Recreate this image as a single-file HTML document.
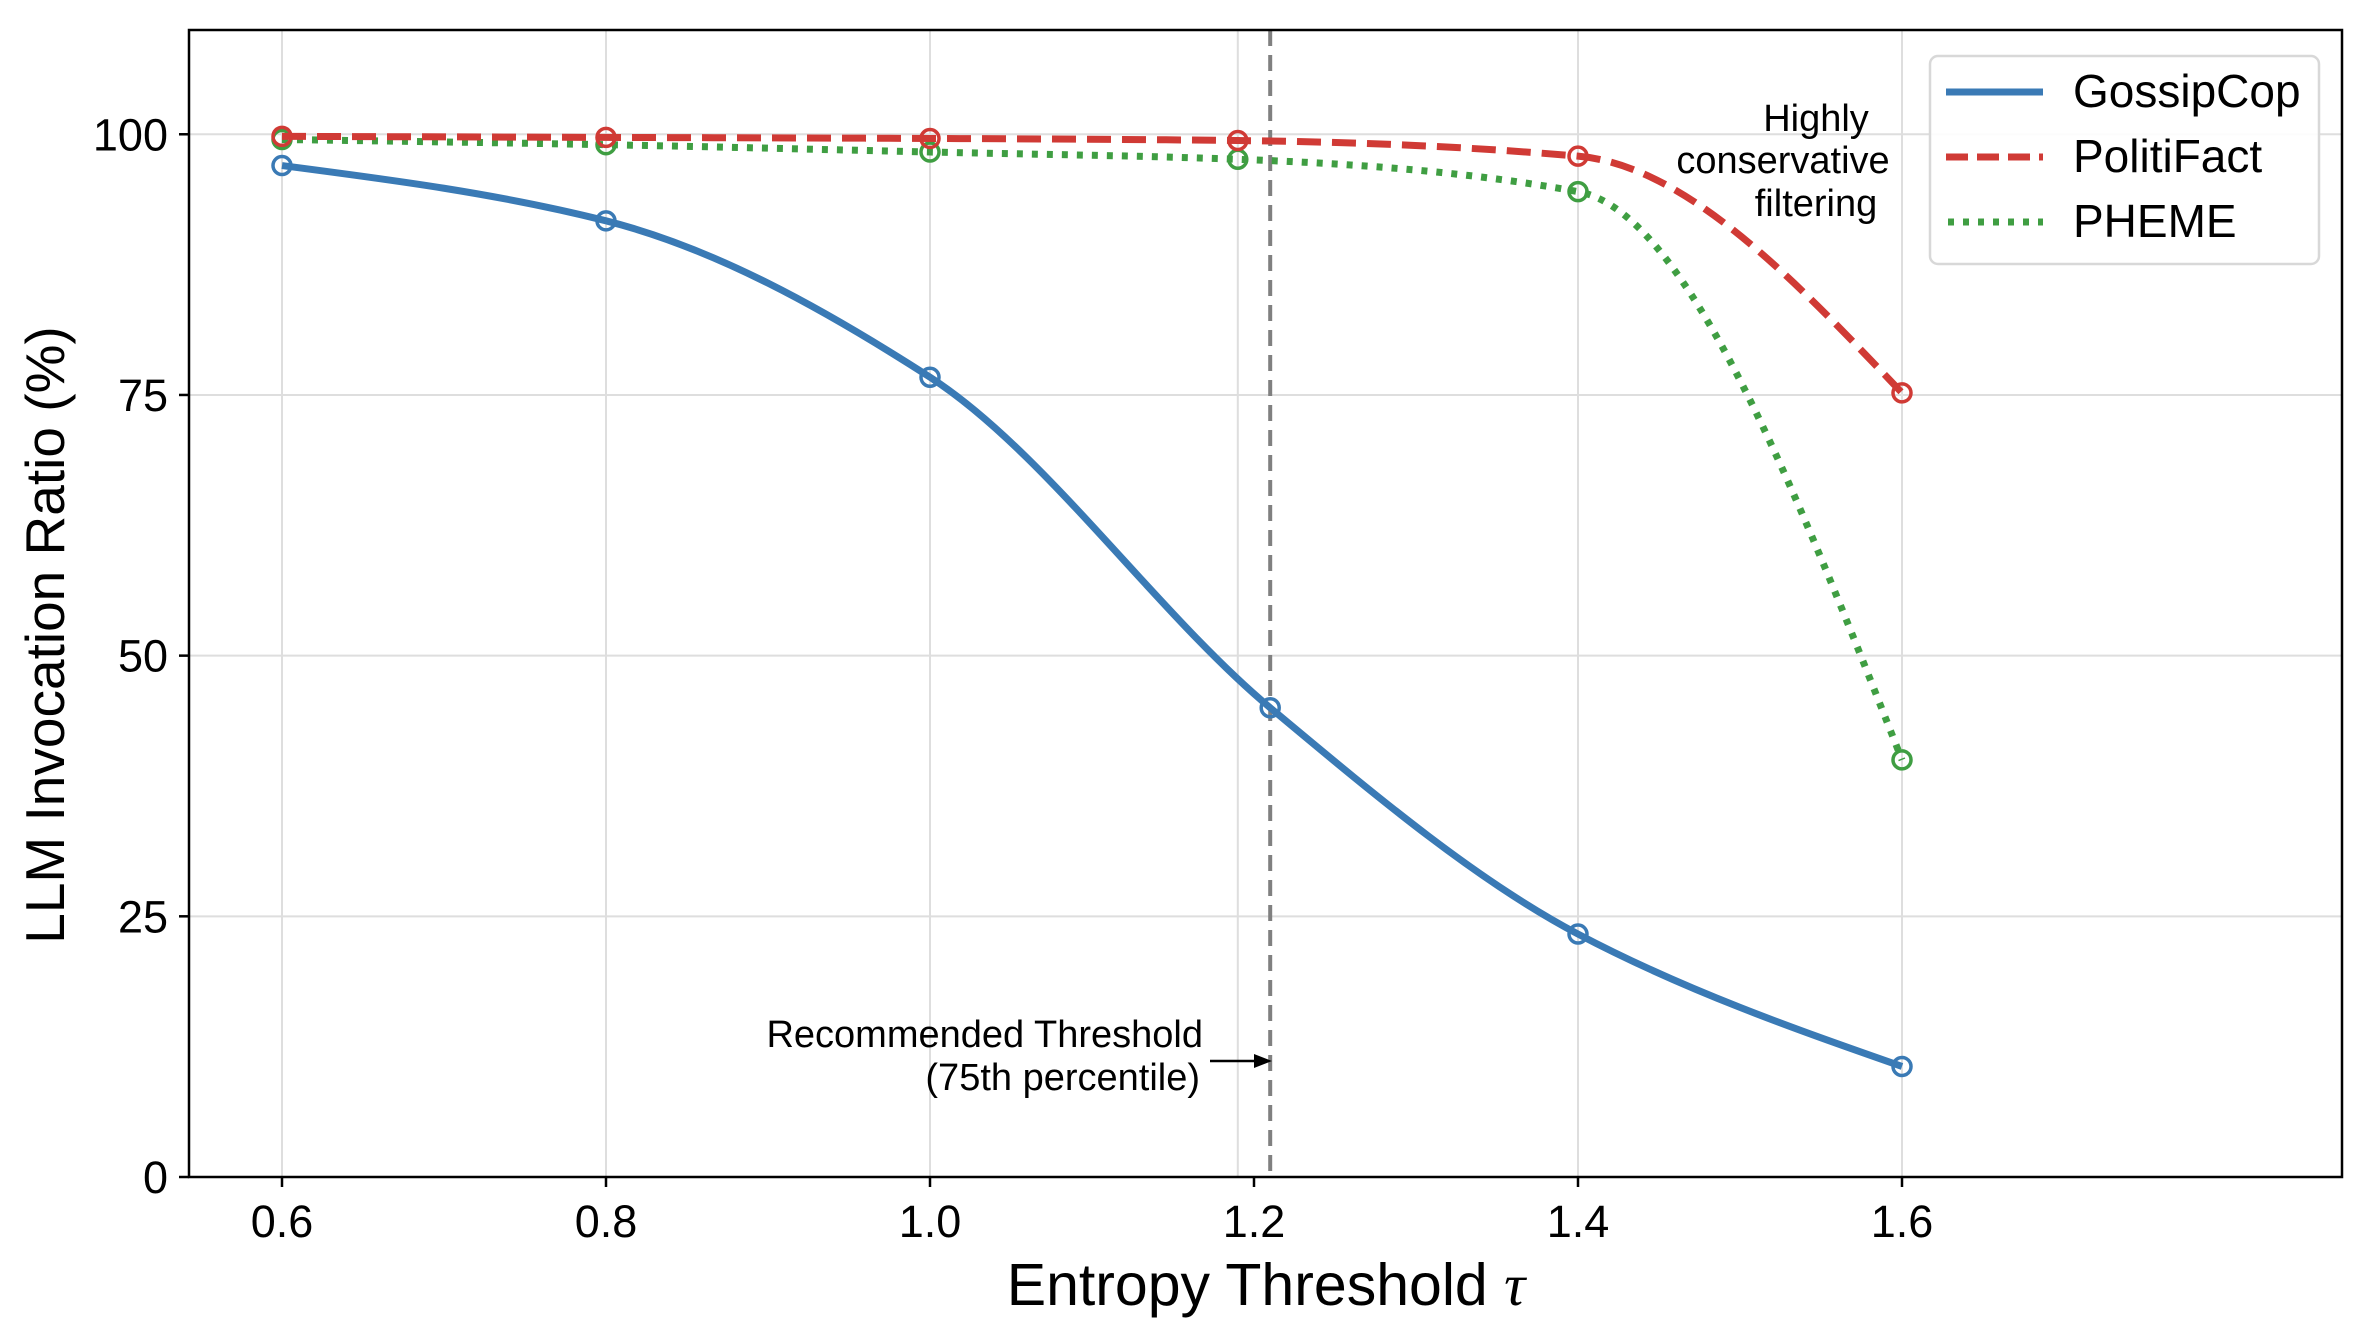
<!DOCTYPE html>
<html><head><meta charset="utf-8"><style>
html,body{margin:0;padding:0;background:#fff;}
svg{display:block;font-family:"Liberation Sans",sans-serif;}
</style></head><body>
<svg id="chart" width="2370" height="1339" viewBox="0 0 2370 1339">
<g id="grid"></g>
<g id="ref"></g>
<g id="series"></g>
<rect x="189" y="30" width="2153" height="1147" fill="none" stroke="#000" stroke-width="2.5"/>
<g id="ticks"></g>
<text x="1266" y="1305" font-size="59" text-anchor="middle">Entropy Threshold <tspan font-family="Liberation Serif" font-style="italic">τ</tspan></text>
<text transform="translate(64,635) rotate(-90)" font-size="55" text-anchor="middle">LLM Invocation Ratio (%)</text>
<g>
<text x="1203" y="1047" font-size="38" text-anchor="end">Recommended Threshold</text>
<text x="1200" y="1090" font-size="38" text-anchor="end">(75th percentile)</text>
<line x1="1210" y1="1061" x2="1258" y2="1061" stroke="#000" stroke-width="2.5"/>
<polygon points="1272,1061 1254,1054 1254,1068" fill="#000"/>
</g>
<g font-size="38" text-anchor="middle">
<text x="1816" y="131">Highly</text>
<text x="1783" y="173">conservative</text>
<text x="1816" y="216">filtering</text>
</g>
<g>
<rect x="1930" y="56" width="389" height="208" rx="8" fill="#fff" fill-opacity="0.9" stroke="#d8d8d8" stroke-width="2.5"/>
<line x1="1946" y1="92" x2="2043" y2="92" stroke="#3a7ab5" stroke-width="7"/>
<text x="2073" y="107" font-size="46">GossipCop</text>
<line x1="1946" y1="157" x2="2043" y2="157" stroke="#d03a35" stroke-width="7" stroke-dasharray="22,9"/>
<text x="2073" y="172" font-size="46">PolitiFact</text>
<line x1="1948" y1="222" x2="2043" y2="222" stroke="#3f9e42" stroke-width="7" stroke-dasharray="6,9"/>
<text x="2073" y="237" font-size="46">PHEME</text>
</g>
</svg>
<script>
const xTicks = [0.6, 0.8, 1.0, 1.2, 1.4, 1.6];
const xTickLabels = ["0.6", "0.8", "1.0", "1.2", "1.4", "1.6"];
const yTicks = [0, 25, 50, 75, 100];
const yTickLabels = ["0", "25", "50", "75", "100"];
const gossipX = [0.6, 0.8, 1.0, 1.21, 1.4, 1.6];
const gossipY = [97.0, 91.7, 76.7, 45.0, 23.3, 10.6];
const politiX = [0.6, 0.8, 1.0, 1.19, 1.4, 1.6];
const politiY = [99.8, 99.7, 99.6, 99.4, 97.9, 75.2];
const phemeX = [0.6, 0.8, 1.0, 1.19, 1.4, 1.6];
const phemeY = [99.5, 99.0, 98.3, 97.6, 94.5, 40.0];
const extraGridX = [1.19];
const refX = 1.21;

const NS = "http://www.w3.org/2000/svg";
const X0 = 282, X1 = 1902, Y0 = 1177, YT = 30;
const xs = v => X0 + (v - 0.6) / 1.0 * (X1 - X0);
const ys = v => Y0 - v / 110 * (Y0 - YT);
function mk(tag, attrs, parent){
  const e = document.createElementNS(NS, tag);
  for (const k in attrs) e.setAttribute(k, attrs[k]);
  parent.appendChild(e); return e;
}
const grid = document.getElementById('grid');
const ticks = document.getElementById('ticks');
const gridXs = xTicks.filter(v => v !== 1.2).concat(extraGridX);
gridXs.forEach(v => {
  const l = mk('line', {x1: xs(v), x2: xs(v), y1: YT, y2: Y0, stroke: '#dedede', 'stroke-width': 2}, grid);
  
  
});
yTicks.forEach((v, i) => {
  const l = mk('line', {x1: 189, x2: 2342, y1: ys(v), y2: ys(v), stroke: '#dedede', 'stroke-width': 2}, grid);
  
  
  const t = mk('line', {x1: 179, x2: 189, y1: ys(v), y2: ys(v), stroke: '#000', 'stroke-width': 2.5}, ticks);
  
  
  const tx = mk('text', {x: 168, y: ys(v) + 16, 'font-size': 45, 'text-anchor': 'end'}, ticks);
  tx.textContent = yTickLabels[i];
  
  
});
xTicks.forEach((v, i) => {
  const t = mk('line', {x1: xs(v), x2: xs(v), y1: Y0, y2: Y0 + 10, stroke: '#000', 'stroke-width': 2.5}, ticks);
  
  
  const tx = mk('text', {x: xs(v), y: Y0 + 60, 'font-size': 45, 'text-anchor': 'middle'}, ticks);
  tx.textContent = xTickLabels[i];
  
  
});
const refG = document.getElementById('ref');
const rl = mk('line', {x1: xs(refX), x2: xs(refX), y1: YT, y2: Y0, stroke: '#808080', 'stroke-width': 4, 'stroke-dasharray': '16,9'}, refG);



function smoothPath(px, py){
  const P = px.map((x, i) => [xs(x), ys(py[i])]);
  const n = P.length, dx = [], m = [], t = [];
  for (let i = 0; i < n - 1; i++){ dx[i] = P[i+1][0] - P[i][0]; m[i] = (P[i+1][1] - P[i][1]) / dx[i]; }
  for (let i = 1; i < n - 1; i++){
    if (m[i-1] * m[i] <= 0) t[i] = 0;
    else { const w1 = 2*dx[i] + dx[i-1], w2 = dx[i] + 2*dx[i-1]; t[i] = (w1 + w2) / (w1 / m[i-1] + w2 / m[i]); }
  }
  t[0] = (3*m[0] - t[1]) / 2;
  t[n-1] = (3*m[n-2] - t[n-2]) / 2;
  let d = 'M' + P[0][0] + ',' + P[0][1];
  for (let i = 0; i < n - 1; i++){
    const h = dx[i] / 3;
    d += ' C' + (P[i][0] + h) + ',' + (P[i][1] + t[i]*h) + ' ' + (P[i+1][0] - h) + ',' + (P[i+1][1] - t[i+1]*h) + ' ' + P[i+1][0] + ',' + P[i+1][1];
  }
  return d;
}
const sg = document.getElementById('series');
const defs = [
  {n: 'pheme', x: phemeX, y: phemeY, c: '#3f9e42', dash: '6,9'},
  {n: 'politifact', x: politiX, y: politiY, c: '#d03a35', dash: '24,11'},
  {n: 'gossipcop', x: gossipX, y: gossipY, c: '#3a7ab5', dash: 'none'}
];
defs.forEach(s => {
  const path = mk('path', {d: smoothPath(s.x, s.y), fill: 'none', stroke: s.c, 'stroke-width': 7, 'stroke-dasharray': s.dash}, sg);
  
  
  s.x.forEach((x, i) => {
    const c = mk('circle', {cx: xs(x), cy: ys(s.y[i]), r: 9, fill: '#fff', 'fill-opacity': 0, stroke: s.c, 'stroke-width': 3.5}, sg);
    
    
  });
});
</script>
</body></html>
